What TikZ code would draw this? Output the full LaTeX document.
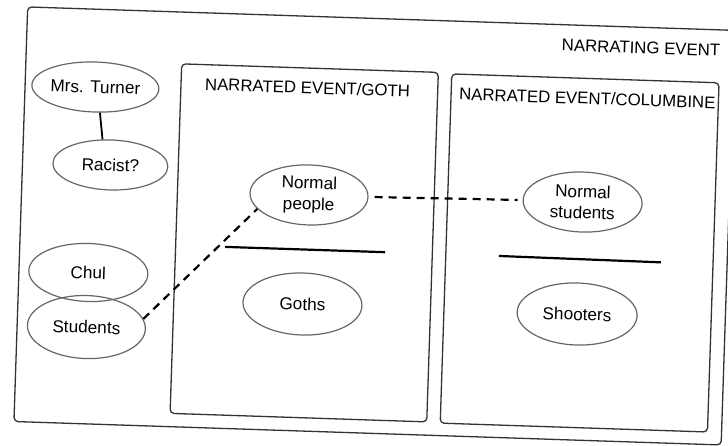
\documentclass[tikz,border=0pt]{standalone}
\usepackage{fontspec}
\setmainfont{Liberation Sans}
\usetikzlibrary{shapes.geometric}
\newcommand{\lblfont}{\fontsize{17.2}{21}\selectfont}
\newcommand{\ttlfont}{\fontsize{16.8}{20}\selectfont}
\begin{document}
\begin{tikzpicture}[x=1pt,y=-1pt,
  frame/.style={draw=black!80, line width=1.3pt, rounded corners=4pt},
  oval/.style={ellipse, draw=black!60, line width=1.2pt, inner sep=0pt, align=center, font=\lblfont},
  title/.style={font=\ttlfont, inner sep=0pt},
  seprule/.style={line width=2.2pt},
  solidlink/.style={line width=1.8pt},
  dashlink/.style={line width=2.2pt, dash pattern=on 8pt off 6pt}]
\useasboundingbox (0,0) rectangle (728,446);
\fill[white] (0,0) rectangle (728,446);
\begin{scope}[rotate around={-1.9:(364,223)}, transform shape]
  % frames
  \draw[frame] (20.7,18.2) rectangle (728.3,433);
  \draw[frame] (176.5,70) rectangle (433.3,419.7);
  \draw[frame] (446.8,71.1) rectangle (714.2,420.5);
  % titles
  \node[title, anchor=base east] (narrating) at (714.5,44.5) {NARRATING EVENT};
  \node[title, anchor=base west] (goth) at (200.4,95.5) {NARRATED EVENT/GOTH};
  \node[title, anchor=base west] (columbine) at (454.7,96.8) {NARRATED EVENT/COLUMBINE};
  % ovals
  \node[oval, minimum width=119pt, minimum height=50pt] (turner) at (91,96) {Mrs. Turner};
  \node[oval, minimum width=115pt, minimum height=50pt] (racist) at (108.6,173.4) {Racist?};
  \node[oval, minimum width=118pt, minimum height=60pt] (np) at (308.1,196.8) {Normal\\people};
  \node[oval, minimum width=119pt, minimum height=60pt] (ns) at (581.8,194.8) {Normal\\students};
  \node[oval, minimum width=119pt, minimum height=62pt] (goths) at (305.2,306) {Goths};
  \node[oval, minimum width=120pt, minimum height=62pt] (shooters) at (580,306.9) {Shooters};
  \node[oval, minimum width=119pt, minimum height=58pt] (chul) at (90.1,281.6) {Chul};
  \node[oval, minimum width=118pt, minimum height=63pt] (students) at (90,336.2) {Students};
  % separator rules
  \coordinate (g1) at (226,251.5);
  \coordinate (g2) at (386,251.5);
  \coordinate (c1) at (500,251.5);
  \coordinate (c2) at (662,252.5);
  \draw[seprule] (g1) -- (g2);
  \draw[seprule] (c1) -- (c2);
  % connectors
  \draw[solidlink] (turner.282) -- (racist.109);
  \draw[dashlink] (students.10) -- (np.197);
  \draw[dashlink, shorten <=6pt, shorten >=5pt] (np.east) -- (ns.west);
\end{scope}
\end{tikzpicture}
\end{document}
